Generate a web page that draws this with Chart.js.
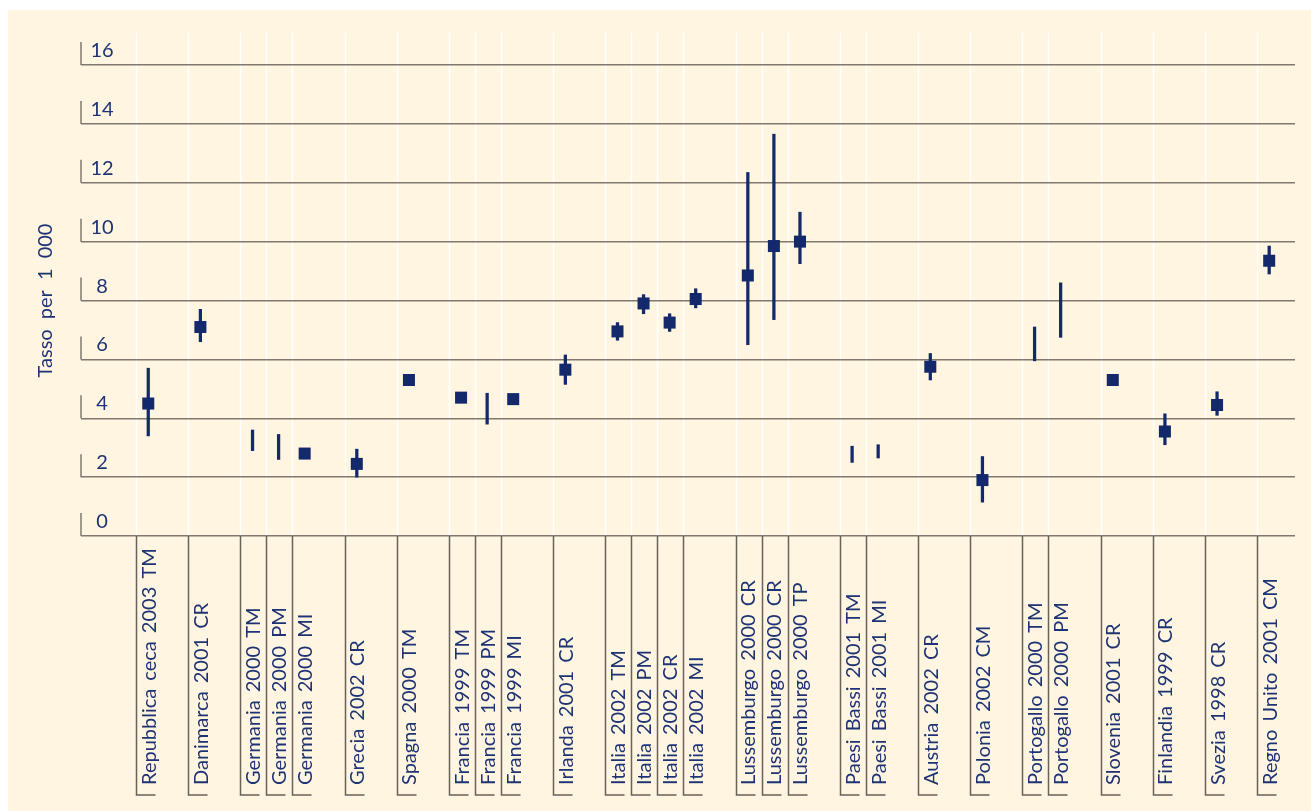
<!DOCTYPE html>
<html lang="it">
<head>
<meta charset="utf-8">
<title>Tasso per 1 000</title>
<script src="https://cdn.jsdelivr.net/npm/chart.js@4/dist/chart.umd.min.js"></script>
<style>
  html, body { margin: 0; padding: 0; background: #ffffff; }
  canvas { display: block; }
</style>
</head>
<body>
<canvas id="chart" width="1311" height="811"></canvas>
<script>
// Indagini per paese, anno e fonte
const categories = [
  'Repubblica ceca 2003 TM',
  'Danimarca 2001 CR',
  'Germania 2000 TM',
  'Germania 2000 PM',
  'Germania 2000 MI',
  'Grecia 2002 CR',
  'Spagna 2000 TM',
  'Francia 1999 TM',
  'Francia 1999 PM',
  'Francia 1999 MI',
  'Irlanda 2001 CR',
  'Italia 2002 TM',
  'Italia 2002 PM',
  'Italia 2002 CR',
  'Italia 2002 MI',
  'Lussemburgo 2000 CR',
  'Lussemburgo 2000 CR',
  'Lussemburgo 2000 TP',
  'Paesi Bassi 2001 TM',
  'Paesi Bassi 2001 MI',
  'Austria 2002 CR',
  'Polonia 2002 CM',
  'Portogallo 2000 TM',
  'Portogallo 2000 PM',
  'Slovenia 2001 CR',
  'Finlandia 1999 CR',
  'Svezia 1998 CR',
  'Regno Unito 2001 CM'
];

// Tasso stimato (null dove è disponibile solo l'intervallo)
const rate = [
  4.5, 7.1, null, null, 2.8, 2.45, 5.3, 4.7, null, 4.65,
  5.65, 6.95, 7.9, 7.25, 8.05, 8.85, 9.85, 10.0, null, null,
  5.75, 1.9, null, null, 5.3, 3.55, 4.45, 9.35
];

// Estremi dell'intervallo (null dove non è riportato)
const rangeLow = [
  3.4, 6.6, 2.9, 2.6, null, 2.0, null, null, 3.8, null,
  5.15, 6.65, 7.55, 6.95, 7.75, 6.5, 7.35, 9.25, 2.5, 2.65,
  5.3, 1.15, 5.95, 6.75, null, 3.1, 4.1, 8.9
];
const rangeHigh = [
  5.7, 7.7, 3.6, 3.45, null, 2.95, null, null, 4.85, null,
  6.15, 7.25, 8.2, 7.55, 8.4, 12.35, 13.65, 11.0, 3.05, 3.1,
  6.2, 2.7, 7.1, 8.6, null, 4.15, 4.9, 9.85
];

const yTicks = [0, 2, 4, 6, 8, 10, 12, 14, 16];
const yTitle = 'Tasso per 1 000';

const NAVY = '#13296b';
const TEXT = '#1d3373';
const GRID = '#7f796f';
const CREAM = '#fff5e1';
const FONT = 'Lato, "Open Sans", sans-serif';

// Ogni paese occupa slot consecutivi; tra paesi diversi resta uno slot vuoto
const countryOf = label => label.split(' ').slice(0, -2).join(' ');
const slots = [];
let slot = 0;
categories.forEach((c, i) => {
  if (i > 0 && countryOf(c) !== countryOf(categories[i - 1])) slot++;
  slots.push(slot);
  slot++;
});
const MID = 0.47;

const rangeData = [];
const rateData = [];
categories.forEach((c, i) => {
  if (rangeLow[i] !== null && rangeHigh[i] !== null) {
    rangeData.push({ x: slots[i] + MID, y: [rangeLow[i], rangeHigh[i]] });
  }
  if (rate[i] !== null) {
    rateData.push({ x: slots[i] + MID, y: rate[i] });
  }
});

const decorations = {
  id: 'decorations',
  beforeDraw(chart) {
    const { ctx, width, height, chartArea, scales } = chart;
    ctx.save();
    ctx.fillStyle = '#ffffff';
    ctx.fillRect(0, 0, width, height);
    ctx.fillStyle = CREAM;
    ctx.fillRect(8, 10, width - 8, height - 10);
    // linee chiare di separazione nell'area del grafico
    ctx.strokeStyle = 'rgba(255,255,255,0.95)';
    ctx.lineWidth = 1.5;
    slots.forEach(s => {
      const px = Math.round(scales.x.getPixelForValue(s)) + 0.5;
      ctx.beginPath();
      ctx.moveTo(px, 33);
      ctx.lineTo(px, chartArea.bottom);
      ctx.stroke();
    });
    ctx.restore();
  },
  afterDraw(chart) {
    const { ctx, chartArea, scales } = chart;
    const xs = scales.x, ys = scales.y;
    ctx.save();

    // etichette e tacche dell'asse verticale
    ctx.strokeStyle = GRID;
    ctx.lineWidth = 1.5;
    ctx.fillStyle = TEXT;
    ctx.font = '20px ' + FONT;
    ctx.textAlign = 'center';
    ctx.textBaseline = 'alphabetic';
    yTicks.forEach(v => {
      const py = ys.getPixelForValue(v);
      ctx.beginPath();
      ctx.moveTo(chartArea.left, py - 23);
      ctx.lineTo(chartArea.left, py);
      ctx.stroke();
      ctx.fillText(String(v), chartArea.left + 21, py - 8);
    });

    // titolo dell'asse verticale
    ctx.save();
    ctx.translate(46, (chartArea.top + chartArea.bottom) / 2);
    ctx.rotate(-Math.PI / 2);
    ctx.textAlign = 'center';
    ctx.textBaseline = 'middle';
    ctx.font = '20px ' + FONT;
    ctx.wordSpacing = '5px';
    ctx.fillText(yTitle, 0, 0);
    ctx.restore();

    // etichette delle categorie con le loro staffe
    const bottomY = 795;
    ctx.font = '20px ' + FONT;
    ctx.wordSpacing = '3px';
    categories.forEach((c, i) => {
      const px = Math.round(xs.getPixelForValue(slots[i])) + 0.5;
      ctx.strokeStyle = '#67625a';
      ctx.beginPath();
      ctx.moveTo(px, chartArea.bottom);
      ctx.lineTo(px, bottomY);
      ctx.lineTo(px + 19, bottomY);
      ctx.stroke();
      ctx.save();
      ctx.translate(xs.getPixelForValue(slots[i] + MID), bottomY - 10);
      ctx.rotate(-Math.PI / 2);
      ctx.textAlign = 'left';
      ctx.textBaseline = 'middle';
      ctx.fillStyle = TEXT;
      ctx.fillText(c, 0, 1);
      ctx.restore();
    });
    ctx.restore();
  }
};

new Chart(document.getElementById('chart'), {
  type: 'bar',
  data: {
    datasets: [
      {
        type: 'scatter',
        data: rateData,
        pointStyle: 'rect',
        pointRadius: 8.5,
        pointHoverRadius: 8.5,
        backgroundColor: NAVY,
        borderWidth: 0,
        order: 0
      },
      {
        type: 'bar',
        data: rangeData,
        backgroundColor: NAVY,
        borderWidth: 0,
        barThickness: 2.6,
        order: 1
      }
    ]
  },
  options: {
    responsive: false,
    animation: false,
    events: [],
    layout: { padding: { left: 81, right: 16, top: 65, bottom: 275 } },
    plugins: { legend: { display: false }, tooltip: { enabled: false } },
    scales: {
      x: {
        type: 'linear',
        min: -2.11,
        max: 44.46,
        offset: false,
        display: false
      },
      y: {
        min: 0,
        max: 16,
        ticks: { display: false, stepSize: 2 },
        grid: { color: GRID, lineWidth: 1.5, drawTicks: false },
        border: { display: false }
      }
    }
  },
  plugins: [decorations]
});
</script>
</body>
</html>
